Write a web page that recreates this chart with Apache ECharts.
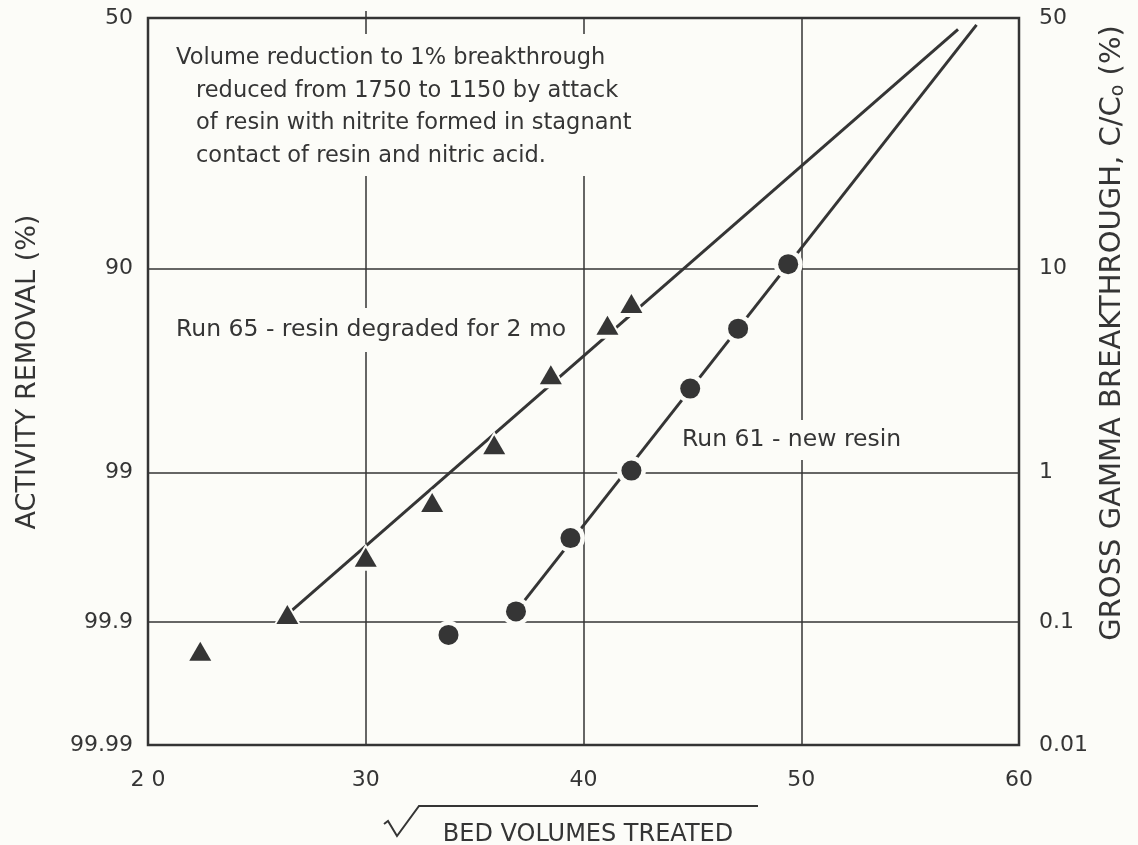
<!DOCTYPE html>
<html>
<head>
<meta charset="utf-8">
<script src="https://cdn.jsdelivr.net/npm/echarts@6/dist/echarts.min.js"></script>
<style>
  html, body { margin: 0; padding: 0; background: #fcfcf8; }
  #chart { width: 1138px; height: 845px; }
</style>
</head>
<body>
<div id="chart"></div>
<script>
// ---- axis ticks ----
const xTickValues = [20, 30, 40, 50, 60];
const xTickLabels = ['2 0', '30', '40', '50', '60'];
const breakthroughTicks = [50, 10, 1, 0.1, 0.01];          // C/Co, %
const breakthroughLabels = ['50', '10', '1', '0.1', '0.01'];
const removalLabels = ['50', '90', '99', '99.9', '99.99'];  // activity removal, %

// ---- Run 65: resin degraded for 2 months ----
const run65Volumes = [22.4, 26.4, 30.0, 33.05, 35.9, 38.5, 41.1, 42.2];
const run65Breakthrough = [0.060, 0.114, 0.29, 0.66, 1.45, 3.4, 5.8, 7.2];
const run65FitVolumes = [26.4, 57.2];
const run65FitBreakthrough = [0.114, 47.7];

// ---- Run 61: new resin ----
const run61Volumes = [33.8, 36.9, 39.4, 42.2, 44.9, 47.1, 49.4];
const run61Breakthrough = [0.080, 0.12, 0.39, 1.03, 2.9, 5.6, 10.4];
const run61FitVolumes = [36.9, 58.05];
const run61FitBreakthrough = [0.12, 48.6];

const INK = '#353535';
const PAPER = '#fcfcf8';
const FONT = '"DejaVu Sans", "Open Sans", sans-serif';

// Inverse standard normal CDF (Acklam) – the probability-scale transform
function probit(p) {
  const a = [-3.969683028665376e+01, 2.209460984245205e+02, -2.759285104469687e+02, 1.383577518672690e+02, -3.066479806614716e+01, 2.506628277459239e+00];
  const b = [-5.447609879822406e+01, 1.615858368580409e+02, -1.556989798598866e+02, 6.680131188771972e+01, -1.328068155288572e+01];
  const c = [-7.784894002430293e-03, -3.223964580411365e-01, -2.400758277161838e+00, -2.549732539343734e+00, 4.374664141464968e+00, 2.938163982698783e+00];
  const d = [7.784695709041462e-03, 3.224671290700398e-01, 2.445134137142996e+00, 3.754408661907416e+00];
  const pl = 0.02425, ph = 1 - pl;
  let q, r;
  if (p < pl) {
    q = Math.sqrt(-2 * Math.log(p));
    return (((((c[0] * q + c[1]) * q + c[2]) * q + c[3]) * q + c[4]) * q + c[5]) /
           ((((d[0] * q + d[1]) * q + d[2]) * q + d[3]) * q + 1);
  }
  if (p <= ph) {
    q = p - 0.5; r = q * q;
    return (((((a[0] * r + a[1]) * r + a[2]) * r + a[3]) * r + a[4]) * r + a[5]) * q /
           (((((b[0] * r + b[1]) * r + b[2]) * r + b[3]) * r + b[4]) * r + 1);
  }
  q = Math.sqrt(-2 * Math.log(1 - p));
  return -(((((c[0] * q + c[1]) * q + c[2]) * q + c[3]) * q + c[4]) * q + c[5]) /
          ((((d[0] * q + d[1]) * q + d[2]) * q + d[3]) * q + 1);
}
const toAxis = pct => probit(pct / 100);
const tickAxisValues = breakthroughTicks.map(toAxis);
function labelFor(list) {
  return v => {
    const i = tickAxisValues.findIndex(t => Math.abs(t - v) < 1e-6);
    return i >= 0 ? list[i] : '';
  };
}
const pairs = (xs, cs) => xs.map((x, i) => [x, toAxis(cs[i])]);

const chart = echarts.init(document.getElementById('chart'));
const lineStyle = { color: INK, width: 1.5 };

chart.setOption({
  backgroundColor: PAPER,
  animation: false,
  grid: { left: 148, right: 119, top: 18, bottom: 100, show: true, borderColor: INK, borderWidth: 2.5, backgroundColor: 'transparent' },
  xAxis: [{
    type: 'value', min: 20, max: 60, interval: 10,
    axisLine: { show: false }, axisTick: { show: false },
    splitLine: { show: true, lineStyle },
    axisLabel: { margin: 24, fontSize: 22, color: INK, fontFamily: FONT,
      formatter: v => xTickLabels[xTickValues.indexOf(v)] }
  }, {
    type: 'value', min: 20, max: 60, position: 'top',
    axisLine: { show: false }, axisLabel: { show: false }, splitLine: { show: false },
    axisTick: { show: true, customValues: [30], length: 7, lineStyle }
  }],
  yAxis: [{
    type: 'value', position: 'left', min: toAxis(0.01), max: 0,
    axisLine: { show: false },
    axisTick: { show: false, customValues: tickAxisValues },
    splitLine: { show: true, lineStyle },
    axisLabel: { customValues: tickAxisValues, margin: 15, fontSize: 22, color: INK, fontFamily: FONT,
      formatter: labelFor(removalLabels) }
  }, {
    type: 'value', position: 'right', min: toAxis(0.01), max: 0,
    axisLine: { show: false },
    axisTick: { show: false, customValues: tickAxisValues },
    splitLine: { show: false },
    axisLabel: { customValues: tickAxisValues, margin: 20, fontSize: 22, color: INK, fontFamily: FONT,
      formatter: labelFor(breakthroughLabels) }
  }],
  series: [
    { name: 'Run 65 fit', type: 'line', data: pairs(run65FitVolumes, run65FitBreakthrough),
      symbol: 'none', lineStyle: { color: INK, width: 3 }, z: 2 },
    { name: 'Run 61 fit', type: 'line', data: pairs(run61FitVolumes, run61FitBreakthrough),
      symbol: 'none', lineStyle: { color: INK, width: 3 }, z: 2 },
    // paper-coloured halos break the fitted lines around each marker
    { type: 'scatter', data: pairs(run65Volumes, run65Breakthrough), symbol: 'triangle',
      symbolSize: [31, 27], itemStyle: { color: PAPER, opacity: 1 }, z: 3, silent: true },
    { type: 'scatter', data: pairs(run61Volumes, run61Breakthrough), symbol: 'circle',
      symbolSize: 29, itemStyle: { color: PAPER, opacity: 1 }, z: 3, silent: true },
    { name: 'Run 65', type: 'scatter', data: pairs(run65Volumes, run65Breakthrough), symbol: 'triangle',
      symbolSize: [22, 19], itemStyle: { color: INK, opacity: 1 }, z: 4 },
    { name: 'Run 61', type: 'scatter', data: pairs(run61Volumes, run61Breakthrough), symbol: 'circle',
      symbolSize: 20, itemStyle: { color: INK, opacity: 1 }, z: 4 }
  ],
  graphic: [
    { type: 'text', x: 170, y: 34, z: 10, style: {
        text: '{a|Volume reduction to 1% breakthrough}\n{b|reduced from 1750 to 1150 by attack}\n{b|of resin with nitrite formed in stagnant}\n{b|contact of resin and nitric acid.}',
        font: '22.5px ' + FONT, fill: INK, lineHeight: 32.5, verticalAlign: 'top',
        backgroundColor: PAPER, padding: [8, 6, 4, 6],
        rich: {
          a: { fontSize: 22.5, fontFamily: FONT, lineHeight: 32.5, fill: INK },
          b: { fontSize: 22.5, fontFamily: FONT, lineHeight: 32.5, fill: INK, padding: [0, 0, 0, 20] }
        } } },
    { type: 'text', x: 172, y: 330, z: 10, style: {
        text: 'Run 65 - resin degraded for 2 mo', font: '23.5px ' + FONT, fill: INK,
        verticalAlign: 'middle', backgroundColor: PAPER, padding: [10, 4] } },
    { type: 'text', x: 678, y: 440, z: 10, style: {
        text: 'Run 61 - new resin', font: '23.5px ' + FONT, fill: INK,
        verticalAlign: 'middle', backgroundColor: PAPER, padding: [8, 4] } },
    { type: 'text', x: 28, y: 372, rotation: Math.PI / 2, z: 10, style: {
        text: 'ACTIVITY REMOVAL (%)', font: '27px ' + FONT, fill: INK,
        align: 'center', verticalAlign: 'middle' } },
    { type: 'text', x: 1112, y: 333, rotation: Math.PI / 2, z: 10, style: {
        text: 'GROSS GAMMA BREAKTHROUGH, C/C{s|o} (%)', font: '29px ' + FONT, fill: INK,
        align: 'center', verticalAlign: 'middle',
        rich: { s: { fontSize: 19, fontFamily: FONT, fill: INK, padding: [12, 0, 0, 0] } } } },
    { type: 'text', x: 588, y: 835, z: 10, style: {
        text: 'BED VOLUMES TREATED', font: '24px ' + FONT, fill: INK,
        align: 'center', verticalAlign: 'middle' } },
    { type: 'polyline', z: 10, shape: { points: [[384, 824], [388, 821], [397, 836], [419, 806], [758, 806]] },
      style: { stroke: INK, lineWidth: 2, fill: null } }
  ]
});
</script>
</body>
</html>
